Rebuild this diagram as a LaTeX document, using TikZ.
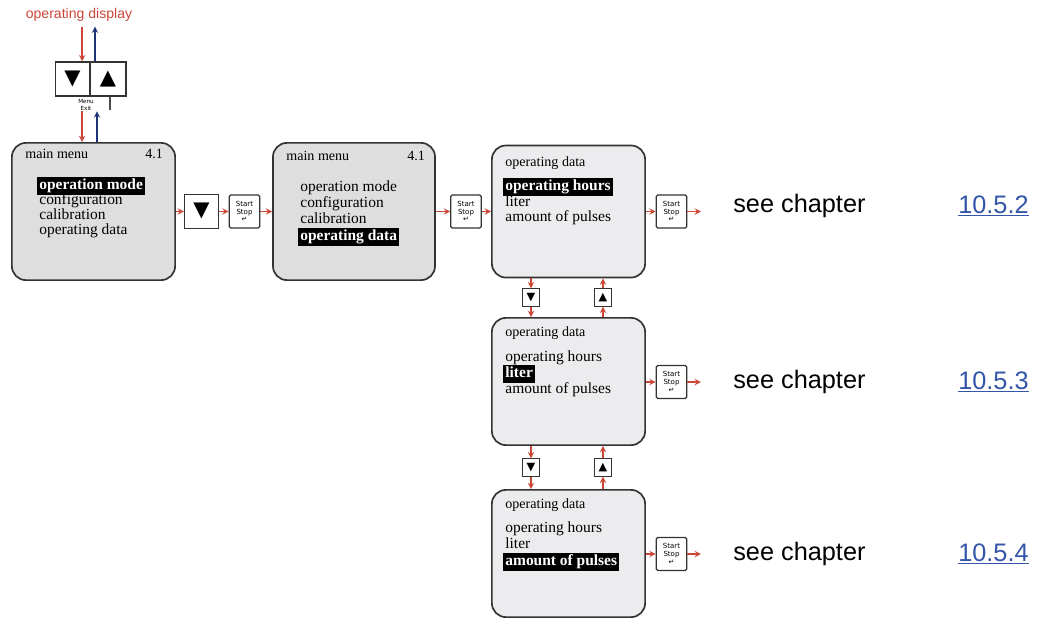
\documentclass[tikz,border=0pt]{standalone}
\usepackage{fontspec}
\setmainfont{Liberation Sans}
\newfontfamily\lcdfont{Liberation Serif}
\newfontfamily\symfont{DejaVu Sans}
\usepackage{xcolor}
\usetikzlibrary{arrows, positioning, calc}
\definecolor{keyred}{RGB}{204,70,56}
\definecolor{keyblue}{RGB}{30,50,120}
\definecolor{linkblue}{RGB}{51,85,170}
\definecolor{lcdgray}{RGB}{222,222,222}
\definecolor{lcdlight}{RGB}{236,236,238}

\begin{document}
\begin{tikzpicture}[
    x=0.025cm, y=-0.025cm,
    display/.style={draw=black!80, line width=1.2pt, rounded corners=0.35cm, fill=lcdgray, inner sep=0pt},
    key/.style={draw=black!80, line width=0.9pt, fill=white, inner sep=0pt, minimum width=0.85cm, minimum height=0.85cm, font=\symfont\fontsize{15}{15}\selectfont},
    smallkey/.style={draw=black!80, line width=0.8pt, fill=white, inner sep=0pt, minimum size=0.43cm, font=\symfont\fontsize{8}{8}\selectfont},
    startkey/.style={draw=black!80, line width=0.9pt, fill=white, rounded corners=1pt, inner sep=0pt, minimum width=0.76cm, minimum height=0.82cm, align=center, font=\symfont\fontsize{5}{5.6}\selectfont},
    lcd/.style={anchor=west, inner sep=1.5pt, text height=7.5pt, text depth=2.5pt, font=\lcdfont\fontsize{11}{11}\selectfont},
    lcdtitle/.style={lcd, font=\lcdfont\fontsize{10}{10}\selectfont},
    sel/.style={lcd, fill=black, text=white, font=\lcdfont\bfseries\fontsize{11}{11}\selectfont},
    arrow/.style={->, >=stealth, draw=keyred, line width=1pt},
    backarrow/.style={->, >=stealth, draw=keyblue, line width=1pt},
    ref/.style={anchor=west, inner sep=0pt, font=\fontsize{18}{18}\selectfont}
]
    \useasboundingbox (0,0) rectangle (1047,619);

    % Keys at the top
    \node[font=\fontsize{10}{10}\selectfont, text=keyred] (title) at (79,15) {operating display};
    \node[key] (tdown) at (72.5,79) {▼};
    \node[key, minimum width=0.9cm] (tup) at (108,79) {▲};
    \node[font=\symfont\fontsize{4}{4.6}\selectfont, align=center, inner sep=0.5pt] (menukey) at (86,105) {Menu\\Exit};
    \draw[black!70, line width=0.8pt] ([xshift=0.05cm]tup.south) -- ++(0,13);

    \draw[arrow] ([xshift=0.24cm]tdown.north |- title.south) -- ([xshift=0.24cm]tdown.north);
    \draw[backarrow] ([xshift=-0.325cm]tup.north) -- ([xshift=-0.325cm]tup.north |- title.south);

    % Main menu
    \node[display, minimum width=4.08cm, minimum height=3.43cm] (mm1) at (93.5,211.5) {};
    \node[lcdtitle] at (23,155) {main menu};
    \node[lcdtitle] at (143,155) {4.1};
    \node[sel] at (37,186) {operation mode};
    \node[lcd] at (37,201) {configuration};
    \node[lcd] at (37,216) {calibration};
    \node[lcd] at (37,231) {operating data};

    \draw[arrow] ([xshift=0.24cm]tdown.north |- menukey.south) -- ([xshift=0.24cm]tdown.north |- mm1.north);
    \draw[backarrow] ([xshift=-0.275cm]tup.south |- mm1.north) -- ([xshift=-0.275cm]tup.south |- menukey.south);

    \node[key] (down1) at (201.5,211.5) {▼};
    \node[startkey] (start1) at (244.5,211.5) {Start\\Stop\\↵};

    \node[display, minimum width=4.05cm, minimum height=3.43cm] (mm2) at (354,211.5) {};
    \node[lcdtitle] at (284,157) {main menu};
    \node[lcdtitle] at (405,157) {4.1};
    \node[lcd] at (298,188) {operation mode};
    \node[lcd] at (298,204) {configuration};
    \node[lcd] at (298,220) {calibration};
    \node[sel] at (298,237) {operating data};

    \node[startkey] (start2) at (466,211.5) {Start\\Stop\\↵};

    \draw[arrow] (mm1) -- (down1);
    \draw[arrow] (down1) -- (start1);
    \draw[arrow] (start1) -- (mm2);
    \draw[arrow] (mm2) -- (start2);

    % Operating data
    \node[display, fill=lcdlight, minimum width=3.83cm, minimum height=3.3cm] (od1) at (568.5,211.5) {};
    \node[lcdtitle] at (503,163) {operating data};
    \node[sel] at (503,187) {operating hours};
    \node[lcd] at (503,203) {liter};
    \node[lcd] at (503,218) {amount of pulses};

    \node[smallkey] (dn1) at (531,297.5) {▼};
    \node[smallkey] (up1) at (603,297.5) {▲};

    \node[display, fill=lcdlight, minimum width=3.83cm, minimum height=3.18cm] (od2) at (568.5,381.5) {};
    \node[lcdtitle] at (503,333) {operating data};
    \node[lcd] at (503,358) {operating hours};
    \node[sel] at (503,374) {liter};
    \node[lcd] at (503,390) {amount of pulses};

    \node[smallkey] (dn2) at (531,467.5) {▼};
    \node[smallkey] (up2) at (603,467.5) {▲};

    \node[display, fill=lcdlight, minimum width=3.83cm, minimum height=3.18cm] (od3) at (568.5,553.5) {};
    \node[lcdtitle] at (503,505) {operating data};
    \node[lcd] at (503,529) {operating hours};
    \node[lcd] at (503,545) {liter};
    \node[sel] at (503,562) {amount of pulses};

    \draw[arrow] (start2) -- (od1);
    \draw[arrow] (dn1 |- od1.south) -- (dn1);
    \draw[arrow] (dn1) -- (dn1 |- od2.north);
    \draw[arrow] (up1 |- od2.north) -- (up1);
    \draw[arrow] (up1) -- (up1 |- od1.south);
    \draw[arrow] (dn2 |- od2.south) -- (dn2);
    \draw[arrow] (dn2) -- (dn2 |- od3.north);
    \draw[arrow] (up2 |- od3.north) -- (up2);
    \draw[arrow] (up2) -- (up2 |- od2.south);

    % Start/Stop keys and chapters
    \node[startkey] (start3) at (671.5,211.5) {Start\\Stop\\↵};
    \node[startkey] (start4) at (671.5,382) {Start\\Stop\\↵};
    \node[startkey] (start5) at (671.5,554) {Start\\Stop\\↵};
    \coordinate (out1) at (701,211.5);
    \coordinate (out2) at (701,382);
    \coordinate (out3) at (701,554);

    \draw[arrow] (od1) -- (start3);
    \draw[arrow] (start3) -- (out1);
    \draw[arrow] (od2.east |- start4) -- (start4);
    \draw[arrow] (start4) -- (out2);
    \draw[arrow] (od3.east |- start5) -- (start5);
    \draw[arrow] (start5) -- (out3);

    \node[ref] (see1) at (733,206) {see chapter};
    \node[ref, text=linkblue] (ch1) at (958,206) {\underline{10.5.2}};
    \node[ref] (see2) at (733,382) {see chapter};
    \node[ref, text=linkblue] (ch2) at (958,382) {\underline{10.5.3}};
    \node[ref] (see3) at (733,554) {see chapter};
    \node[ref, text=linkblue] (ch3) at (958,554) {\underline{10.5.4}};
\end{tikzpicture}
\end{document}
